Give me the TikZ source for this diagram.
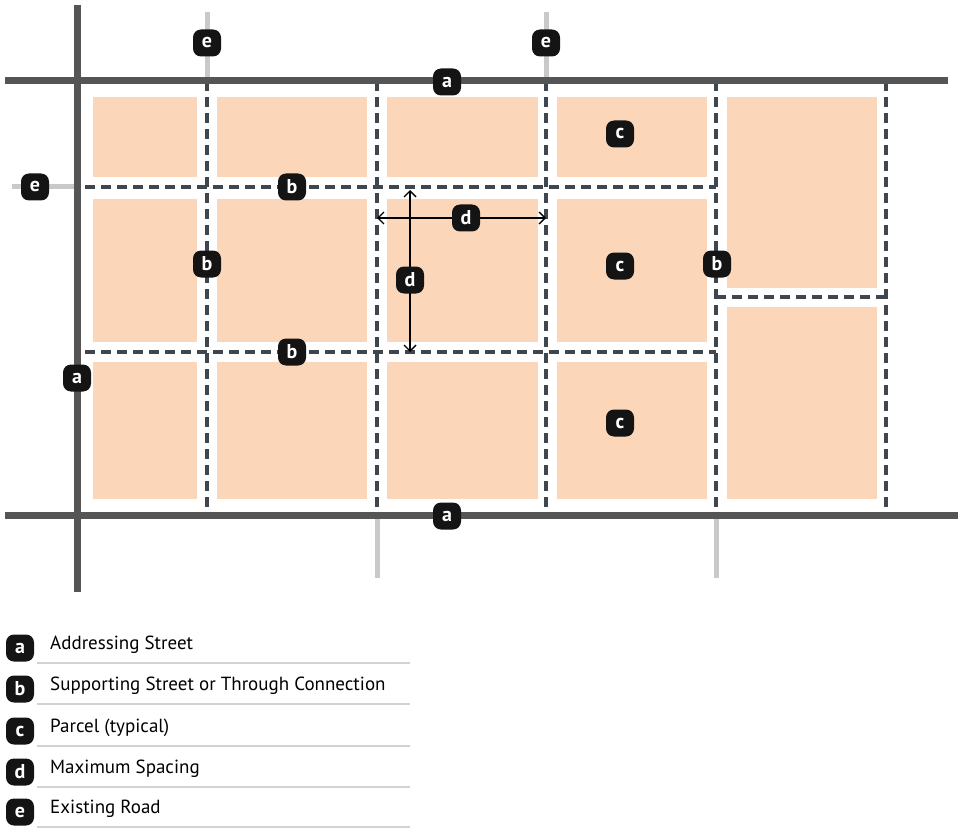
\documentclass[tikz,border=0pt]{standalone}
\usepackage{fontspec}
\setmainfont{PT Sans}
\usetikzlibrary{arrows.meta}
\definecolor{road}{HTML}{555555}
\definecolor{oldroad}{HTML}{C9C9C9}
\definecolor{dashc}{HTML}{3E4650}
\definecolor{parcel}{HTML}{FBD6B8}
\definecolor{rulec}{HTML}{D2D2D2}
\begin{document}
\begin{tikzpicture}[x=1pt,y=-1pt,
 badge/.style={fill=black!92, rounded corners=8pt, minimum width=28pt, minimum height=27pt, inner sep=0pt, text=white, font=\fontsize{20}{20}\selectfont\bfseries},
 mainroad/.style={draw=road, line width=7pt},
 oldrd/.style={draw=oldroad, line width=5pt},
 casing/.style={draw=white, line width=12pt},
 support/.style={draw=dashc, line width=4pt, dash pattern=on 10pt off 6pt},
 lot/.style={fill=parcel},
 leg/.style={anchor=west, font=\fontsize{19}{19}\selectfont, inner sep=0pt},
 rulel/.style={draw=rulec, line width=2pt},
 dim/.style={draw=black, line width=1.4pt, {Straight Barb[length=6pt,width=12pt]}-{Straight Barb[length=6pt,width=12pt]}}
]
\useasboundingbox (0,0) rectangle (960,834);
% parcels
\foreach \xa/\xb in {93/197,217/367,387/538,557/707}{
  \fill[lot] (\xa,97) rectangle (\xb,177);
  \fill[lot] (\xa,199) rectangle (\xb,342);
  \fill[lot] (\xa,362) rectangle (\xb,499);
}
\fill[lot] (727,97) rectangle (877,288);
\fill[lot] (727,307) rectangle (877,499);
% coordinates
\coordinate (rL1) at (77,5);   \coordinate (rL2) at (77,592);
\coordinate (rT1) at (5,81);   \coordinate (rT2) at (948,81);
\coordinate (rB1) at (5,515);  \coordinate (rB2) at (958,515);
\foreach \n/\x in {1/207,2/377,3/546,4/716,5/886}{
  \coordinate (v\n t) at (\x,81); \coordinate (v\n b) at (\x,515);
}
\coordinate (h1a) at (85,187); \coordinate (h1b) at (716,187);
\coordinate (h2a) at (85,352); \coordinate (h2b) at (716,352);
\coordinate (h3a) at (716,297); \coordinate (h3b) at (886,297);
\coordinate (s1) at (207,12); \coordinate (s2) at (546,12);
\coordinate (s3a) at (12,187); \coordinate (s3b) at (77,187);
\coordinate (s4) at (377,578); \coordinate (s5) at (716,578);
% existing roads
\draw[oldrd] (s1) -- (v1t);
\draw[oldrd] (s2) -- (v3t);
\draw[oldrd] (s3a) -- (s3b);
\draw[oldrd] (v2b) -- (s4);
\draw[oldrd] (v4b) -- (s5);
% supporting streets
\foreach \a/\b in {v1t/v1b,v2t/v2b,v3t/v3b,v4t/v4b,v5t/v5b,h1a/h1b,h2a/h2b,h3a/h3b}{
  \draw[casing] (\a) -- (\b);
}
\foreach \a/\b in {v1t/v1b,v2t/v2b,v3t/v3b,v4t/v4b,v5t/v5b,h1a/h1b,h2a/h2b,h3a/h3b}{
  \draw[support] (\a) -- (\b);
}
% addressing streets
\draw[mainroad] (rL1) -- (rL2);
\draw[mainroad] (rT1) -- (rT2);
\draw[mainroad] (rB1) -- (rB2);
% dimension arrows
\coordinate (dh1) at (377,218); \coordinate (dh2) at (546,218);
\coordinate (dv1) at (410,190); \coordinate (dv2) at (410,352);
\draw[dim] (dh1) -- (dh2);
\draw[dim] (dv1) -- (dv2);
% badges
\node[badge] (a1) at (447,82) {a};
\node[badge] (a2) at (447,516) {a};
\node[badge] (a3) at (77,378) {a};
\node[badge] (b1) at (292,187) {b};
\node[badge] (b2) at (207,264) {b};
\node[badge] (b3) at (292,352) {b};
\node[badge] (b4) at (717,264) {b};
\node[badge] (c1) at (620,134) {c};
\node[badge] (c2) at (620,266) {c};
\node[badge] (c3) at (620,423) {c};
\node[badge] (d1) at (466,218) {d};
\node[badge] (d2) at (410,280) {d};
\node[badge] (e1) at (207,43) {e};
\node[badge] (e2) at (546,43) {e};
\node[badge] (e3) at (35,187) {e};
% legend
\foreach \l/\y/\t in {a/648/Addressing Street,b/689/Supporting Street or Through Connection,c/731/Parcel (typical),d/772/Maximum Spacing,e/812/Existing Road}{
  \node[badge] (L\l) at (20,\y) {\l};
  \node[leg] (T\l) at (50,\y-3) {\t};
  \coordinate (R\l a) at (37,\y+15); \coordinate (R\l b) at (410,\y+15);
  \draw[rulel] (R\l a) -- (R\l b);
}
\end{tikzpicture}
\end{document}
